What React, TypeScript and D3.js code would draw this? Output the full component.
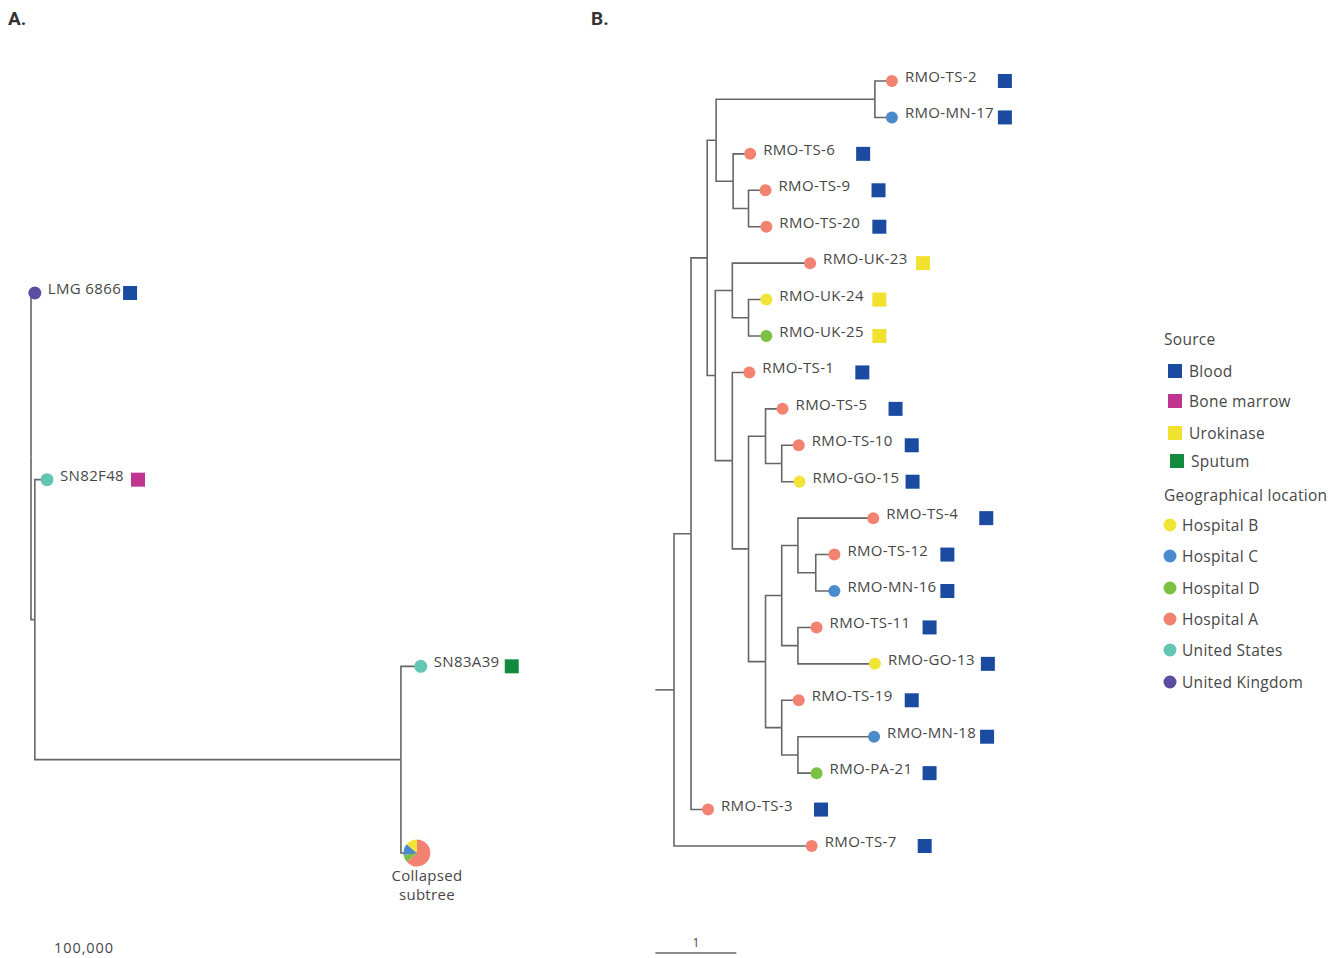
import React from "react";
import * as d3 from "d3";

// ---------- categories ----------
const LOCATIONS = ["Hospital B", "Hospital C", "Hospital D", "Hospital A", "United States", "United Kingdom"];
const LOCATION_COLORS = ["#f0e437", "#4b8bcb", "#7dc143", "#f48270", "#63c6b5", "#5b4ea2"];
const SOURCES = ["Blood", "Bone marrow", "Urokinase", "Sputum"];
const SOURCE_COLORS = ["#1b4ba0", "#bf3590", "#f1e22f", "#138b3f"];

// ---------- Panel A (branch lengths in genome distance units) ----------
const edgesA: [string, string | null, number][] = [
  ["rootA", null, 0],
  ["LMG 6866", "rootA", 6000],
  ["a2", "rootA", 6000],
  ["SN82F48", "a2", 19000],
  ["a3", "a2", 572000],
  ["SN83A39", "a3", 31000],
  ["collapsed", "a3", 25000],
];
const tipsA = ["LMG 6866", "SN82F48", "SN83A39"];
const locationA = ["United Kingdom", "United States", "United States"];
const sourceA = ["Blood", "Bone marrow", "Sputum"];
const scaleLabelA = "100,000";

// ---------- Panel B (branch lengths in substitutions) ----------
const rootStubB = 0.23;
const edgesB: [string, string | null, number][] = [
  ["root", null, 0],
  ["Na", "root", 0.21],
  ["Nb", "Na", 0.2],
  ["Nc", "Nb", 0.11],
  ["Ne", "Nc", 1.96],
  ["RMO-TS-2", "Ne", 0.21],
  ["RMO-MN-17", "Ne", 0.21],
  ["Nf", "Nc", 0.21],
  ["RMO-TS-6", "Nf", 0.21],
  ["Ng", "Nf", 0.19],
  ["RMO-TS-9", "Ng", 0.21],
  ["RMO-TS-20", "Ng", 0.22],
  ["Nd", "Nb", 0.1],
  ["Nh", "Nd", 0.21],
  ["RMO-UK-23", "Nh", 0.96],
  ["Nj", "Nh", 0.2],
  ["RMO-UK-24", "Nj", 0.22],
  ["RMO-UK-25", "Nj", 0.22],
  ["Ni", "Nd", 0.21],
  ["RMO-TS-1", "Ni", 0.21],
  ["Nk", "Ni", 0.2],
  ["Nl", "Nk", 0.21],
  ["RMO-TS-5", "Nl", 0.21],
  ["Nn", "Nl", 0.2],
  ["RMO-TS-10", "Nn", 0.21],
  ["RMO-GO-15", "Nn", 0.22],
  ["Nm", "Nk", 0.21],
  ["No", "Nm", 0.2],
  ["Nq", "No", 0.2],
  ["RMO-TS-4", "Nq", 0.93],
  ["Ns", "Nq", 0.22],
  ["RMO-TS-12", "Ns", 0.23],
  ["RMO-MN-16", "Ns", 0.23],
  ["Nr", "No", 0.2],
  ["RMO-TS-11", "Nr", 0.23],
  ["RMO-GO-13", "Nr", 0.95],
  ["Np", "Nm", 0.2],
  ["RMO-TS-19", "Np", 0.21],
  ["Nt", "Np", 0.2],
  ["RMO-MN-18", "Nt", 0.94],
  ["RMO-PA-21", "Nt", 0.23],
  ["RMO-TS-3", "Na", 0.21],
  ["RMO-TS-7", "root", 1.7],
];
const tipsB = [
  "RMO-TS-2", "RMO-MN-17", "RMO-TS-6", "RMO-TS-9", "RMO-TS-20", "RMO-UK-23", "RMO-UK-24", "RMO-UK-25",
  "RMO-TS-1", "RMO-TS-5", "RMO-TS-10", "RMO-GO-15", "RMO-TS-4", "RMO-TS-12", "RMO-MN-16", "RMO-TS-11",
  "RMO-GO-13", "RMO-TS-19", "RMO-MN-18", "RMO-PA-21", "RMO-TS-3", "RMO-TS-7",
];
const locationB = [
  "Hospital A", "Hospital C", "Hospital A", "Hospital A", "Hospital A", "Hospital A", "Hospital B", "Hospital D",
  "Hospital A", "Hospital A", "Hospital A", "Hospital B", "Hospital A", "Hospital A", "Hospital C", "Hospital A",
  "Hospital B", "Hospital A", "Hospital C", "Hospital D", "Hospital A", "Hospital A",
];
const sourceB = [
  "Blood", "Blood", "Blood", "Blood", "Blood", "Urokinase", "Urokinase", "Urokinase",
  "Blood", "Blood", "Blood", "Blood", "Blood", "Blood", "Blood", "Blood",
  "Blood", "Blood", "Blood", "Blood", "Blood", "Blood",
];
const pieOrder = ["Hospital A", "Hospital D", "Hospital C", "Hospital B"];

const locColor = d3.scaleOrdinal<string, string>().domain(LOCATIONS).range(LOCATION_COLORS);
const srcColor = d3.scaleOrdinal<string, string>().domain(SOURCES).range(SOURCE_COLORS);

const FONT = "'Open Sans', 'Noto Sans', sans-serif";
const TEXT = "#474747";
const LINE = "#666666";
const LABEL_SIZE = 15;
const LABEL_SPACING = 0.35;

let measureCtx: CanvasRenderingContext2D | null = null;
function textWidth(s: string) {
  if (!measureCtx && typeof document !== "undefined") {
    measureCtx = document.createElement("canvas").getContext("2d");
  }
  if (!measureCtx) return s.length * 8;
  measureCtx.font = `${LABEL_SIZE}px 'Open Sans', 'Noto Sans', sans-serif`;
  return measureCtx.measureText(s).width + s.length * LABEL_SPACING;
}

type LNode = d3.HierarchyNode<[string, string | null, number]> & { len: number; yy: number };

function layout(edges: [string, string | null, number][], yRange: [number, number]) {
  const root = d3
    .stratify<[string, string | null, number]>()
    .id((d) => d[0])
    .parentId((d) => d[1])(edges) as LNode;
  root.eachBefore((n: any) => {
    n.len = n.parent ? n.parent.len + n.data[2] : 0;
  });
  const leaves = root.leaves() as LNode[];
  const y = d3.scaleLinear().domain([0, leaves.length - 1]).range(yRange);
  leaves.forEach((l, i) => (l.yy = y(i)));
  root.eachAfter((n: any) => {
    if (n.children) n.yy = d3.mean(n.children, (c: any) => c.yy);
  });
  return { root, nodes: root.descendants() as LNode[], leaves };
}

function Tree({
  edges, yRange, x, tips, locs, srcs, squareDx, r,
}: {
  edges: [string, string | null, number][];
  yRange: [number, number];
  x: d3.ScaleLinear<number, number>;
  tips: string[];
  locs: string[];
  srcs: string[];
  squareDx: number;
  r: number;
}) {
  const { nodes } = layout(edges, yRange);
  return (
    <g>
      {nodes
        .filter((n) => n.parent)
        .map((n) => {
          const p = n.parent as LNode;
          return (
            <path
              key={"l" + n.id}
              d={`M${x(p.len)},${p.yy}V${n.yy}H${x(n.len)}`}
              fill="none"
              stroke={LINE}
              strokeWidth={1.6}
            />
          );
        })}
      {nodes
        .filter((n) => tips.includes(n.id as string))
        .map((n) => {
          const i = tips.indexOf(n.id as string);
          const cx = x(n.len);
          const labelX = cx + 13;
          const sqX = Math.max(cx + squareDx, labelX + textWidth(n.id as string) + 2);
          return (
            <g key={"t" + n.id}>
              <circle cx={cx} cy={n.yy} r={r} fill={locColor(locs[i])} />
              <text x={labelX} y={n.yy + 1} fontSize={LABEL_SIZE} letterSpacing={LABEL_SPACING} fill={TEXT} fontFamily={FONT}>
                {n.id}
              </text>
              <rect x={sqX} y={n.yy - 7} width={14} height={14} fill={srcColor(srcs[i])} />
            </g>
          );
        })}
    </g>
  );
}

export default function App() {
  // Panel A
  const xA = d3.scaleLinear().domain([0, 100000]).range([31, 95]);
  const A = layout(edgesA, [293, 853]);
  const collapsed = A.nodes.find((n) => n.id === "collapsed") as LNode;
  const counts = pieOrder.map((loc) => ({ loc, n: locationB.filter((l) => l === loc).length }));
  const pie = d3.pie<{ loc: string; n: number }>().sort(null).value((d) => d.n)(counts);
  const arc = d3.arc<d3.PieArcDatum<{ loc: string; n: number }>>().innerRadius(0).outerRadius(13.5);
  const pcx = xA(collapsed.len);
  const pcy = collapsed.yy;

  // Panel B
  const xB = d3.scaleLinear().domain([0, 1]).range([674, 755]);
  const B = layout(edgesB, [81, 846]);
  const barStart = xB(-rootStubB);
  const barEnd = xB(-rootStubB + 1);

  const legendSrcY = [371, 401, 433, 461];
  const legendLocY = [525, 556, 588, 619, 650, 682];

  return (
    <svg
      width={1340}
      height={958}
      style={{ position: "absolute", left: 0, top: 0, background: "#fff" }}
      fontFamily={FONT}
    >
      <text x={8} y={25} fontSize={19} fontWeight={700} fill="#333" fontFamily="'Liberation Sans Narrow', 'Roboto', sans-serif">
        A.
      </text>
      <text x={591} y={25} fontSize={19} fontWeight={700} fill="#333" fontFamily="'Liberation Sans Narrow', 'Roboto', sans-serif">
        B.
      </text>

      {/* Panel A */}
      <Tree edges={edgesA} yRange={[293, 853]} x={xA} tips={tipsA} locs={locationA} srcs={sourceA} squareDx={84} r={6.5} />
      <g transform={`translate(${pcx},${pcy})`}>
        {pie.map((s) => (
          <path key={s.data.loc} d={arc(s) as string} fill={locColor(s.data.loc)} />
        ))}
      </g>
      <text x={pcx + 10} y={pcy + 28} textAnchor="middle" fontSize={15} letterSpacing={0.3} fill={TEXT}>
        Collapsed
      </text>
      <text x={pcx + 10} y={pcy + 47} textAnchor="middle" fontSize={15} letterSpacing={0.3} fill={TEXT}>
        subtree
      </text>
      <text x={84} y={953} textAnchor="middle" fontSize={14.5} letterSpacing={0.9} fill={TEXT}>
        {scaleLabelA}
      </text>

      {/* Panel B */}
      <line x1={xB(-rootStubB)} x2={xB(0)} y1={B.root.yy} y2={B.root.yy} stroke={LINE} strokeWidth={1.6} />
      <Tree edges={edgesB} yRange={[81, 846]} x={xB} tips={tipsB} locs={locationB} srcs={sourceB} squareDx={106} r={6} />
      <line x1={barStart} x2={barEnd} y1={953} y2={953} stroke={LINE} strokeWidth={1.6} />
      <text x={(barStart + barEnd) / 2} y={947} textAnchor="middle" fontSize={12} fill={TEXT}>
        1
      </text>

      {/* Legend */}
      <text x={1164} y={345} fontSize={15.5} letterSpacing={0.3} fill={TEXT}>
        Source
      </text>
      {SOURCES.map((s, i) => (
        <g key={s}>
          <rect x={i === 3 ? 1170 : 1168} y={legendSrcY[i] - 7} width={14} height={14} fill={srcColor(s)} />
          <text x={i === 3 ? 1191 : 1189} y={legendSrcY[i] + 6} fontSize={15.5} letterSpacing={0.3} fill={TEXT}>
            {s}
          </text>
        </g>
      ))}
      <text x={1164} y={501} fontSize={15.5} letterSpacing={0.3} fill={TEXT}>
        Geographical location
      </text>
      {LOCATIONS.map((l, i) => (
        <g key={l}>
          <circle cx={1170} cy={legendLocY[i]} r={6.5} fill={locColor(l)} />
          <text x={1182} y={legendLocY[i] + 6} fontSize={15.5} letterSpacing={0.3} fill={TEXT}>
            {l}
          </text>
        </g>
      ))}
    </svg>
  );
}
